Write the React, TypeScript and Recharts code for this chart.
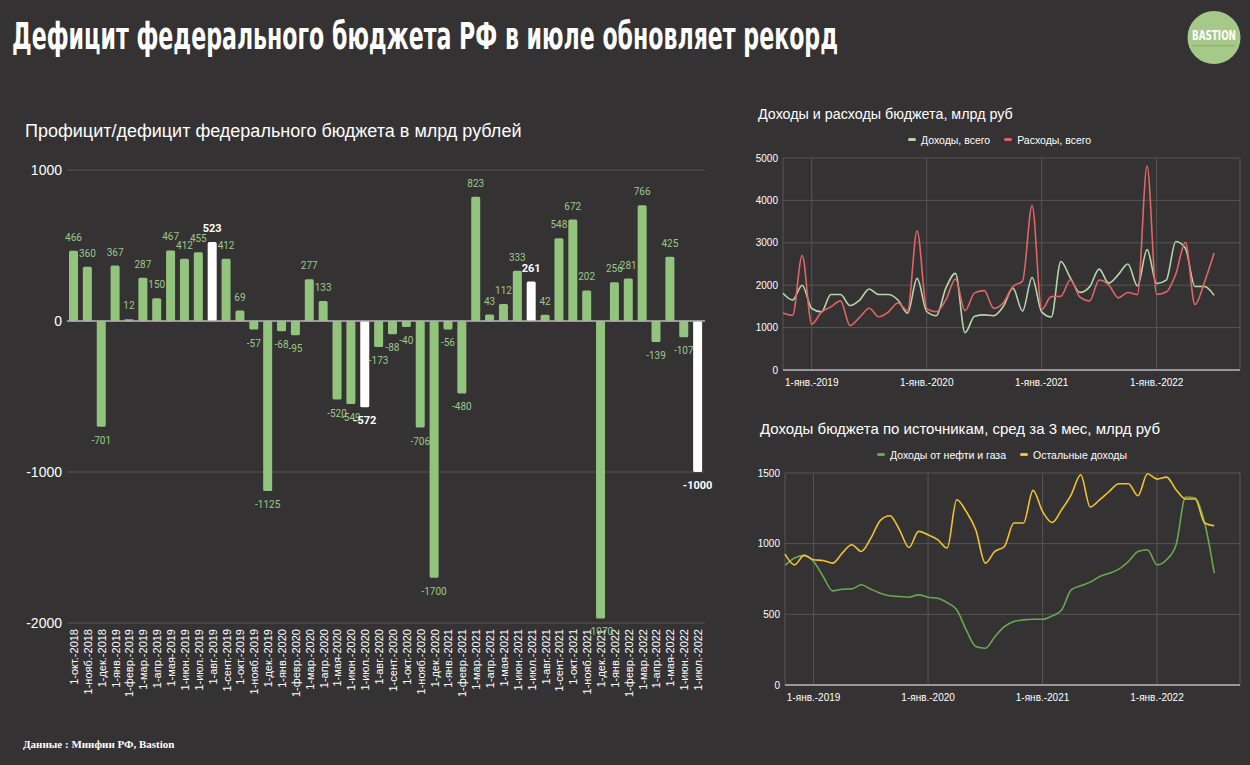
import React from 'react';
import {
  BarChart, Bar, XAxis, YAxis, CartesianGrid, Cell, LabelList, ReferenceLine,
  LineChart, Line,
} from 'recharts';

const months = [
  '1-окт.-2018', '1-нояб.-2018', '1-дек.-2018',
  '1-янв.-2019', '1-февр.-2019', '1-мар.-2019', '1-апр.-2019', '1-мая-2019', '1-июн.-2019',
  '1-июл.-2019', '1-авг.-2019', '1-сент.-2019', '1-окт.-2019', '1-нояб.-2019', '1-дек.-2019',
  '1-янв.-2020', '1-февр.-2020', '1-мар.-2020', '1-апр.-2020', '1-мая-2020', '1-июн.-2020',
  '1-июл.-2020', '1-авг.-2020', '1-сент.-2020', '1-окт.-2020', '1-нояб.-2020', '1-дек.-2020',
  '1-янв.-2021', '1-февр.-2021', '1-мар.-2021', '1-апр.-2021', '1-мая-2021', '1-июн.-2021',
  '1-июл.-2021', '1-авг.-2021', '1-сент.-2021', '1-окт.-2021', '1-нояб.-2021', '1-дек.-2021',
  '1-янв.-2022', '1-февр.-2022', '1-мар.-2022', '1-апр.-2022', '1-мая-2022', '1-июн.-2022',
  '1-июл.-2022',
];

const balance = [
  466, 360, -701, 367, 12, 287, 150, 467, 412, 455, 523, 412, 69, -57, -1125,
  -68, -95, 277, 133, -520, -549, -572, -173, -88, -40, -706, -1700,
  -56, -480, 823, 43, 112, 333, 261, 42, 548, 672, 202, -1970,
  256, 281, 766, -139, 425, -107, -1000,
];

const highlighted = ['1-авг.-2019', '1-июл.-2020', '1-июл.-2021', '1-июл.-2022'];

const incomeTotal = [
  1810, 1650, 2000, 1450, 1370, 1780, 1780, 1520, 1650, 1910, 1780, 1780, 1650, 1340, 2160,
  1380, 1280, 1930, 2280, 880, 1270, 1300, 1280, 1500, 1930, 1390, 2180,
  1370, 1250, 2560, 2170, 1830, 1960, 2380, 2050, 2250, 2500, 1980, 2840,
  2040, 2120, 3030, 2870, 1970, 1970, 1760,
];

const expenseTotal = [
  1344, 1290, 2700, 1083, 1360, 1490, 1630, 1050, 1240, 1455, 1257, 1368, 1581, 1397, 3285,
  1448, 1375, 1653, 2147, 1400, 1819, 1872, 1453, 1588, 1970, 2096, 3880,
  1426, 1730, 1737, 2127, 1718, 1627, 2119, 2008, 1702, 1828, 1778, 4810,
  1784, 1839, 2264, 3009, 1545, 2077, 2760,
];

const oilGasIncome = [
  846, 898, 917, 874, 768, 666, 678, 680, 709, 678,
  650, 631, 626, 621, 638, 621, 614, 583, 532, 390,
  272, 260, 342, 413, 449, 461, 465, 465, 489, 531,
  673, 702, 728, 768, 791, 820, 874, 945, 957, 850,
  886, 992, 1330, 1323, 1146, 791,
];

const otherIncome = [
  926, 850, 917, 886, 881, 862, 933, 992, 945, 1039,
  1165, 1198, 1098, 973, 1087, 1063, 1028, 969, 1311, 1228,
  1098, 862, 945, 980, 1146, 1146, 1377, 1228, 1150, 1240,
  1346, 1488, 1259, 1311, 1370, 1424, 1424, 1339, 1495, 1457,
  1471, 1382, 1316, 1316, 1146, 1127,
];

const balanceTicks = [-2000, -1000, 0, 1000];
const totalsTicks = [0, 1000, 2000, 3000, 4000, 5000];
const sourcesTicks = [0, 500, 1000, 1500];
const yearTicks = [3, 15, 27, 39];

const BG = '#343233';
const GREEN = '#93c47d';
const GRID = '#575556';

const barData = months.map((m, i) => ({ month: m, value: balance[i] }));
const totalsData = months.map((m, i) => ({ i, income: incomeTotal[i], expense: expenseTotal[i] }));
const sourcesData = months.map((m, i) => ({ i, oil: oilGasIncome[i], other: otherIncome[i] }));

const MonthTick = (props: any) => {
  const { x, y, payload } = props;
  return (
    <text
      x={x}
      y={y}
      transform={`rotate(-90 ${x} ${y})`}
      textAnchor="end"
      dominantBaseline="central"
      fill="#ffffff"
      fontSize={11}
      fontFamily="'Liberation Sans', Arial, sans-serif"
    >
      {payload.value}
    </text>
  );
};

const BarValueLabel = (props: any) => {
  const { x, y, width, height, value, index } = props;
  const top = Math.min(y, y + height);
  const bottom = Math.max(y, y + height);
  const isHi = highlighted.includes(months[index]);
  const cx = x + width / 2;
  const ty = value >= 0 ? top - 10 : bottom + 17;
  return (
    <text
      x={cx}
      y={ty}
      textAnchor="middle"
      fill={isHi ? '#ffffff' : '#9cc98a'}
      fontSize={isHi ? 11 : 10}
      fontWeight={isHi ? 700 : 400}
      fontFamily="Roboto, 'Liberation Sans', sans-serif"
    >
      {value}
    </text>
  );
};

const axisFont = { fill: '#ffffff', fontSize: 10, fontFamily: "'Liberation Sans', Arial, sans-serif" };

const LegendItem = ({ color, label }: { color: string; label: string }) => (
  <span style={{ display: 'inline-flex', alignItems: 'center', marginRight: 14 }}>
    <span style={{ display: 'inline-block', width: 8, height: 3, borderRadius: 2, background: color, marginRight: 5 }} />
    <span>{label}</span>
  </span>
);

export default function App() {
  return (
    <div
      style={{
        position: 'absolute', left: 0, top: 0, width: 1250, height: 765,
        background: BG, overflow: 'hidden', fontFamily: "'Liberation Sans', Arial, sans-serif",
      }}
    >
      <svg width={1250} height={80} style={{ position: 'absolute', left: 0, top: 0 }}>
        <text
          x={12}
          y={49}
          fill="#ffffff"
          fontSize={38}
          fontWeight={700}
          fontFamily="'Liberation Sans Narrow', 'DejaVu Sans Condensed', 'Liberation Sans', sans-serif"
          textLength={826}
          lengthAdjust="spacingAndGlyphs"
        >
          Дефицит федерального бюджета РФ в июле обновляет рекорд
        </text>
        <circle cx={1214} cy={37.5} r={26.5} fill="#a6c889" />
        <text
          x={1214}
          y={40}
          textAnchor="middle"
          fill="#ffffff"
          fontSize={14}
          fontWeight={700}
          fontFamily="'Liberation Sans Narrow', 'DejaVu Sans Condensed', sans-serif"
          textLength={44}
          lengthAdjust="spacingAndGlyphs"
        >
          BASTION
        </text>
        <line x1={1192} y1={45.7} x2={1235} y2={45.7} stroke="#86a96f" strokeWidth={1} />
      </svg>

      <div style={{ position: 'absolute', left: 25, top: 121, color: '#ffffff', fontSize: 18, whiteSpace: 'nowrap' }}>
        Профицит/дефицит федерального бюджета в млрд рублей
      </div>

      <div style={{ position: 'absolute', left: 0, top: 150 }}>
        <BarChart
          width={720}
          height={600}
          data={barData}
          margin={{ top: 20, right: 15, bottom: 0, left: 0 }}
          barSize={9}
        >
          <CartesianGrid vertical={false} stroke={GRID} />
          <XAxis
            dataKey="month"
            interval={0}
            height={127}
            tickLine={false}
            axisLine={false}
            tick={<MonthTick />}
            tickMargin={0}
          />
          <YAxis
            type="number"
            domain={[-2000, 1000]}
            ticks={balanceTicks}
            width={67}
            tickSize={3}
            tickMargin={2}
            tickLine={false}
            axisLine={false}
            tick={{ fill: '#ffffff', fontSize: 14, fontFamily: "'Liberation Sans', Arial, sans-serif" }}
          />
          <ReferenceLine y={0} stroke="#b5b3b4" strokeWidth={1.5} />
          <Bar dataKey="value" isAnimationActive={false} radius={[1.5, 1.5, 1.5, 1.5]}>
            {barData.map((d) => (
              <Cell key={d.month} fill={highlighted.includes(d.month) ? '#ffffff' : GREEN} />
            ))}
            <LabelList dataKey="value" content={<BarValueLabel />} />
          </Bar>
        </BarChart>
      </div>

      <div style={{ position: 'absolute', left: 23, top: 738, color: '#ffffff', fontSize: 11, fontWeight: 700, fontFamily: "'Liberation Serif', 'DejaVu Serif', serif", whiteSpace: 'nowrap' }}>
        Данные : Минфин РФ, Bastion
      </div>

      <div style={{ position: 'absolute', left: 758, top: 106, color: '#ffffff', fontSize: 14.3, whiteSpace: 'nowrap' }}>
        Доходы и расходы бюджета, млрд руб
      </div>
      <div style={{ position: 'absolute', left: 908, top: 131, color: '#ffffff', fontSize: 10.5, whiteSpace: 'nowrap' }}>
        <LegendItem color="#b6d7a8" label="Доходы, всего" />
        <LegendItem color="#e06666" label="Расходы, всего" />
      </div>
      <div style={{ position: 'absolute', left: 740, top: 140 }}>
        <LineChart
          width={510}
          height={260}
          data={totalsData}
          margin={{ top: 18, right: 10, bottom: 0, left: 0 }}
        >
          <CartesianGrid stroke={GRID} />
          <XAxis
            dataKey="i"
            type="number"
            domain={[0, 47.7]}
            ticks={yearTicks}
            tickFormatter={(v: number) => months[v]}
            height={30}
            tickLine={false}
            axisLine={{ stroke: '#b5b3b4', strokeWidth: 1.5 }}
            tick={axisFont}
            tickMargin={3}
          />
          <YAxis
            type="number"
            domain={[0, 5000]}
            ticks={totalsTicks}
            width={43}
            tickSize={3}
            tickMargin={2}
            tickLine={false}
            axisLine={false}
            tick={axisFont}
          />
          <Line type="monotone" dataKey="income" stroke="#b6d7a8" strokeWidth={1.6} dot={false} isAnimationActive={false} />
          <Line type="monotone" dataKey="expense" stroke="#e06666" strokeWidth={1.6} dot={false} isAnimationActive={false} />
        </LineChart>
      </div>

      <div style={{ position: 'absolute', left: 760, top: 420, color: '#ffffff', fontSize: 15, whiteSpace: 'nowrap' }}>
        Доходы бюджета по источникам, сред за 3 мес, млрд руб
      </div>
      <div style={{ position: 'absolute', left: 877, top: 446, color: '#ffffff', fontSize: 10.5, whiteSpace: 'nowrap' }}>
        <LegendItem color="#6aa84f" label="Доходы от нефти и газа" />
        <LegendItem color="#f1c232" label="Остальные доходы" />
      </div>
      <div style={{ position: 'absolute', left: 740, top: 455 }}>
        <LineChart
          width={510}
          height={260}
          data={sourcesData}
          margin={{ top: 18, right: 10, bottom: 0, left: 0 }}
        >
          <CartesianGrid stroke={GRID} />
          <XAxis
            dataKey="i"
            type="number"
            domain={[0, 47.7]}
            ticks={yearTicks}
            tickFormatter={(v: number) => months[v]}
            height={30}
            tickLine={false}
            axisLine={{ stroke: '#b5b3b4', strokeWidth: 1.5 }}
            tick={axisFont}
            tickMargin={3}
          />
          <YAxis
            type="number"
            domain={[0, 1500]}
            ticks={sourcesTicks}
            width={45}
            tickSize={3}
            tickMargin={2}
            tickLine={false}
            axisLine={false}
            tick={axisFont}
          />
          <Line type="monotone" dataKey="oil" stroke="#6aa84f" strokeWidth={1.6} dot={false} isAnimationActive={false} />
          <Line type="monotone" dataKey="other" stroke="#f1c232" strokeWidth={1.6} dot={false} isAnimationActive={false} />
        </LineChart>
      </div>
    </div>
  );
}
